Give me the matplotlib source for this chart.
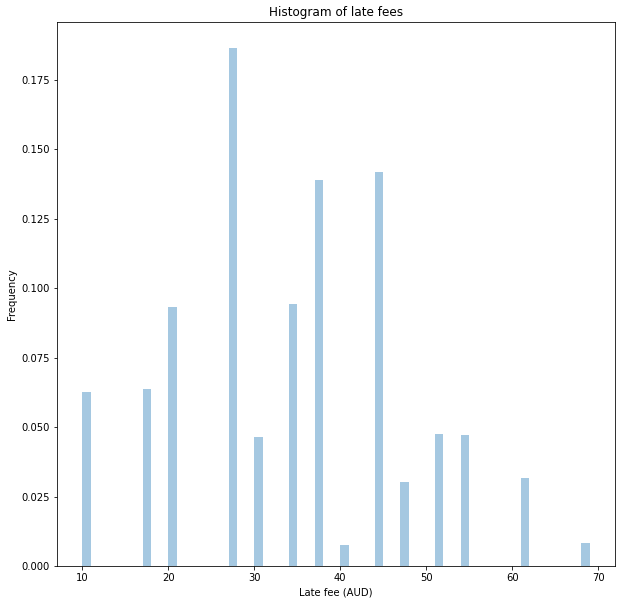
import matplotlib
matplotlib.use('Agg')
import matplotlib.pyplot as plt

# left edge of each non-empty bin (bin width 1 AUD) and its density
fee_bins = [10, 17, 20, 27, 30, 34, 37, 40, 44, 47, 51, 54, 61, 68]
density = [0.0627, 0.0638, 0.0933, 0.1864, 0.0465, 0.0944, 0.1390,
           0.0077, 0.1418, 0.0303, 0.0476, 0.0472, 0.0318, 0.0084]
bin_width = 1.0

title = "Histogram of late fees"
x_label = "Late fee (AUD)"
y_label = "Frequency"


def main():
    dpi = 72
    fig = plt.figure(figsize=(622 / dpi, 604 / dpi), dpi=dpi)
    ax = fig.add_axes([57 / 622, (604 - 566.3) / 604, 558 / 622, 544 / 604])

    ax.bar(fee_bins, density, width=bin_width, align='edge',
           color='#1f77b4', alpha=0.4, linewidth=0)

    ax.set_title(title)
    ax.set_xlabel(x_label)
    ax.set_ylabel(y_label)
    ax.set_xticks([10, 20, 30, 40, 50, 60, 70])

    fig.savefig('out.png', dpi=dpi)


if __name__ == '__main__':
    main()
